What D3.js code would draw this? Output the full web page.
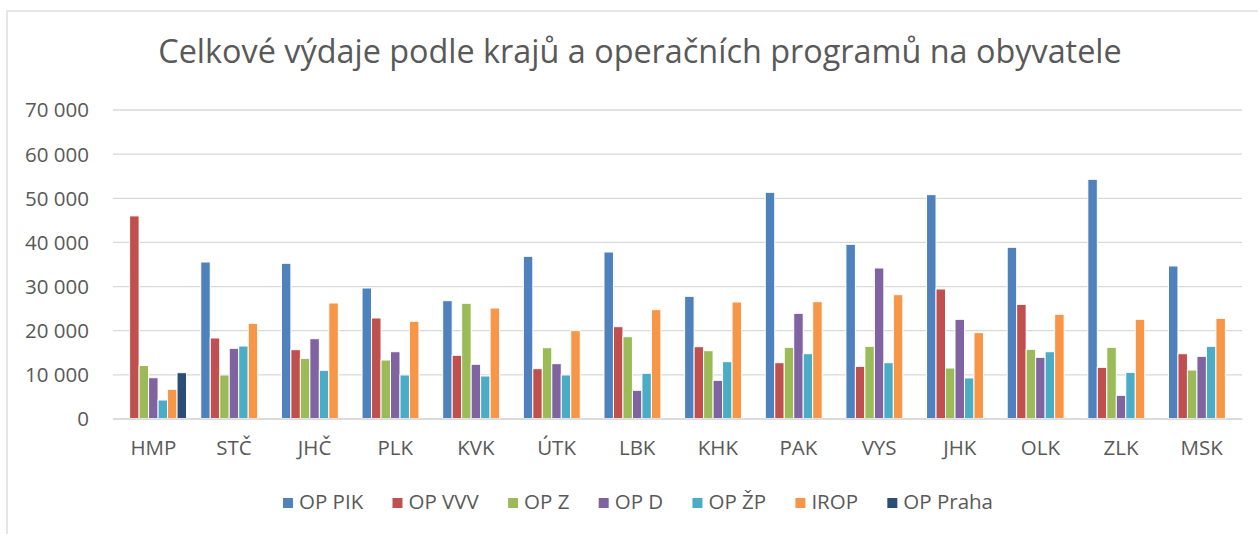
<!DOCTYPE html>
<html><head><meta charset="utf-8">
<script src="https://cdn.jsdelivr.net/npm/d3@7"></script>
<style>html,body{margin:0;padding:0;background:#fff;}svg{display:block;}</style>
</head><body>
<svg id="c" width="1258" height="534"></svg>
<script>
const categories = ["HMP","STČ","JHČ","PLK","KVK","ÚTK","LBK","KHK","PAK","VYS","JHK","OLK","ZLK","MSK"];
const seriesNames = ["OP PIK","OP VVV","OP Z","OP D","OP ŽP","IROP","OP Praha"];
const opPIK   = [null, 35450, 35160, 29560, 26690, 36740, 37720, 27680, 51240, 39460, 50710, 38780, 54190, 34550];
const opVVV   = [45900, 18240, 15590, 22770, 14320, 11290, 20800, 16270, 12640, 11820, 29340, 25860, 11590, 14680];
const opZ     = [12000, 9860, 13630, 13250, 26100, 16040, 18530, 15360, 16130, 16350, 11440, 15670, 16130, 10990];
const opD     = [9240, 15900, 18080, 15130, 12280, 12420, 6390, 8650, 23830, 34100, 22470, 13860, 5250, 14090];
const opZP    = [4190, 16420, 10920, 9860, 9630, 9860, 10240, 12870, 14680, 12640, 9180, 15130, 10460, 16350];
const irop    = [6610, 21560, 26170, 22020, 25030, 19900, 24650, 26390, 26460, 28050, 19450, 23600, 22470, 22700];
const opPraha = [10380, null, null, null, null, null, null, null, null, null, null, null, null, null];
const yTicks  = [0, 10000, 20000, 30000, 40000, 50000, 60000, 70000];
const colors  = ["#4F81BD","#C0504D","#9BBB59","#8064A2","#4BACC6","#F79646","#2C4D75"];
const title = "Celkové výdaje podle krajů a operačních programů na obyvatele";

const seriesValues = [opPIK, opVVV, opZ, opD, opZP, irop, opPraha];
const svg = d3.select("#c");
const font = "'Open Sans', 'Liberation Sans', sans-serif";
const textCol = "#595959";
const gridCol = "#d9d9d9";

// chart border
svg.append("rect").attr("x",7).attr("y",11).attr("width",1300).attr("height",600)
  .attr("fill","none").attr("stroke",gridCol).attr("stroke-width",1.3);

const x0 = d3.scaleBand().domain(categories).range([113,1242]).paddingInner(0).paddingOuter(0);
const x1 = d3.scaleBand().domain(seriesNames).range([0, x0.bandwidth()]).paddingInner(0).paddingOuter(0.75);
const y = d3.scaleLinear().domain([0,70000]).range([418.5,109.5]);
const loc = d3.formatLocale({decimal:",", thousands:" ", grouping:[3], currency:["",""]});
const fmt = loc.format(",d");

// gridlines
const yAxis = d3.axisLeft(y).tickValues(yTicks).tickSize(-(1242-113)).tickFormat(fmt).tickPadding(24);
const gy = svg.append("g").attr("transform","translate(113,0)").call(yAxis);
gy.select(".domain").remove();
gy.selectAll(".tick line").attr("stroke",gridCol).attr("stroke-width",1.3);
gy.selectAll(".tick text").attr("fill",textCol).style("font-family",font).style("font-size","20.5px").attr("dy","0.36em");

// bars
const rows = [];
seriesNames.forEach((s,si)=>{
  categories.forEach((c,ci)=>{
    const v = seriesValues[si][ci];
    if(v!=null) rows.push({s,c,v,si});
  });
});
svg.append("g").selectAll("rect").data(rows).join("rect")
  .attr("x",d=>x0(d.c)+x1(d.s))
  .attr("width",x1.bandwidth())
  .attr("y",d=>y(d.v))
  .attr("height",d=>y(0)-y(d.v))
  .attr("fill",d=>colors[d.si])
  .attr("stroke","#fff").attr("stroke-width",1);

// x axis
const xAxis = d3.axisBottom(x0).tickSize(0).tickPadding(22);
const gx = svg.append("g").attr("transform",`translate(0,${y(0)})`).call(xAxis);
gx.select(".domain").attr("stroke",gridCol).attr("stroke-width",1.5);
gx.selectAll(".tick text").attr("fill",textCol).style("font-family",font).style("font-size","20.5px");

// title (fit to width)
const t = svg.append("text").attr("x",640).attr("y",63).attr("text-anchor","middle")
  .attr("fill",textCol).style("font-family",font).style("font-size","28px").text(title);
const tw = t.node().getComputedTextLength();
t.style("font-size",(28*964/tw).toFixed(2)+"px");

// legend
const lg = svg.append("g");
const items = seriesNames.map((s,i)=>{
  const g = lg.append("g");
  g.append("rect").attr("width",10).attr("height",10).attr("y",-11).attr("fill",colors[i]);
  const tx = g.append("text").attr("x",16).attr("y",0).attr("fill",textCol)
    .style("font-family",font).style("font-size","20.5px").text(s);
  return {g, w:16+tx.node().getComputedTextLength()};
});
const span = 710, start = 283;
const sumW = d3.sum(items,d=>d.w);
const gap = (span - sumW)/(items.length-1);
let cx = start;
items.forEach(it=>{ it.g.attr("transform",`translate(${cx},509)`); cx += it.w + gap; });
</script>
</body></html>
